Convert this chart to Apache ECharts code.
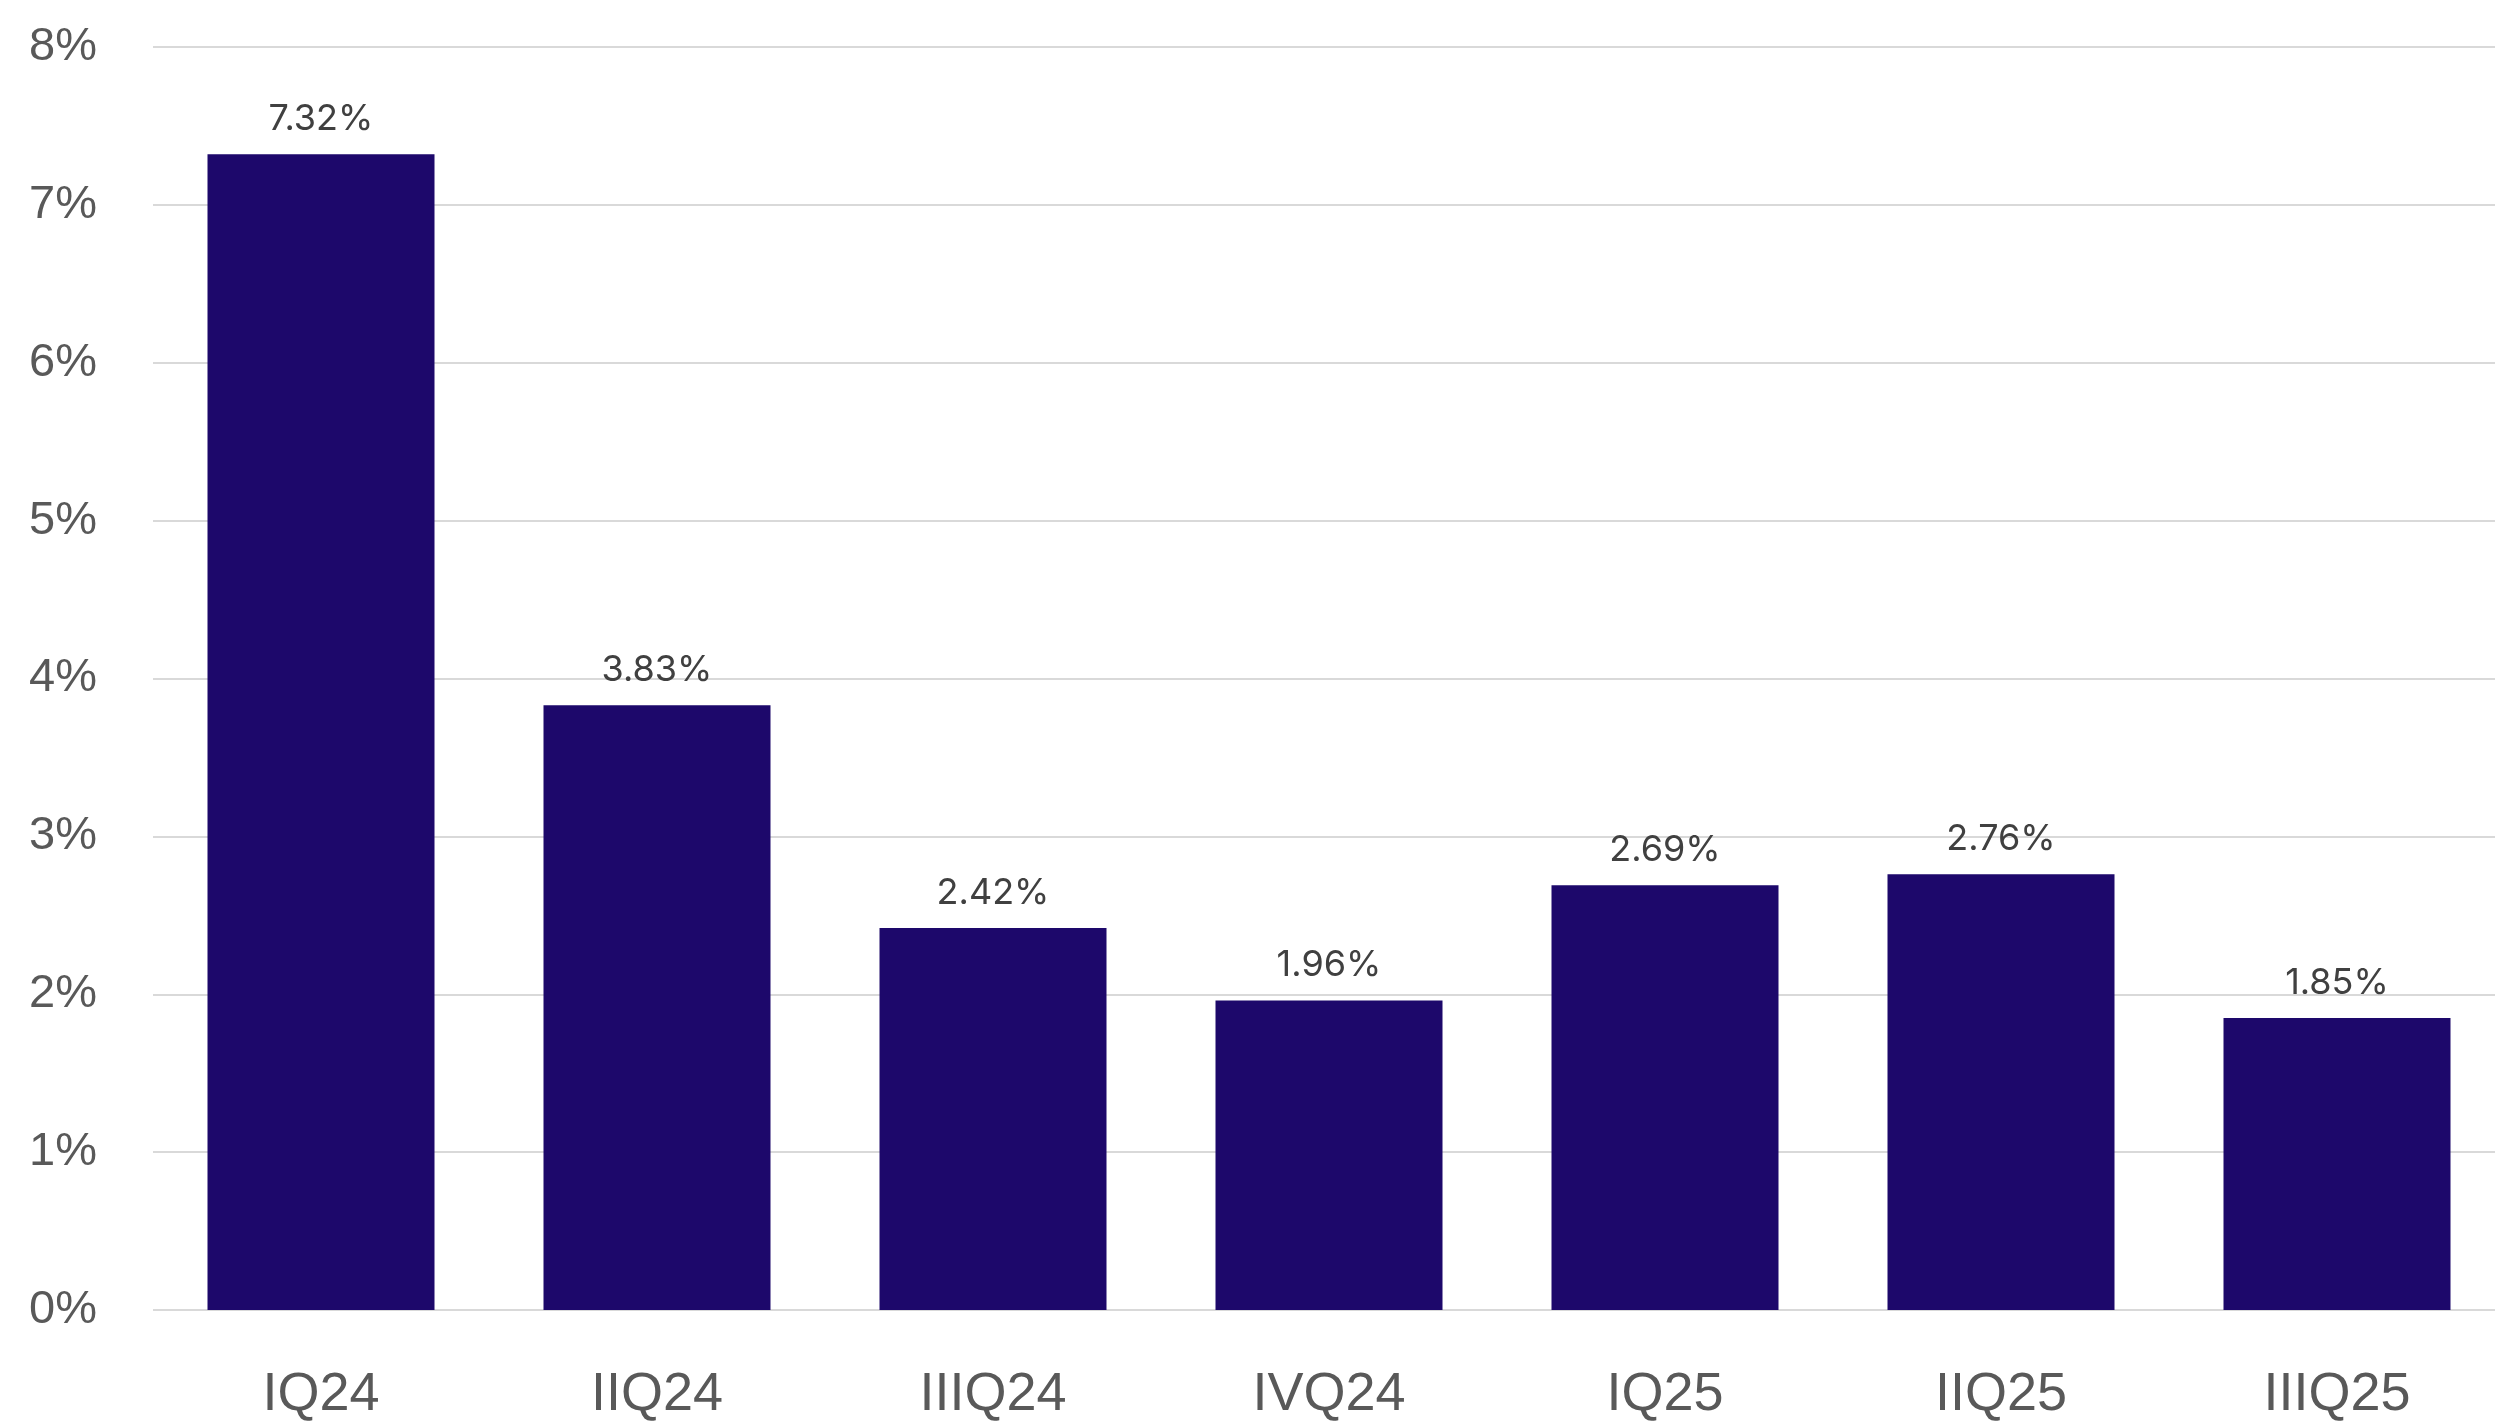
<!DOCTYPE html>
<html>
<head>
<meta charset="utf-8">
<script src="https://cdn.jsdelivr.net/npm/echarts@6/dist/echarts.min.js"></script>
<style>
html,body{margin:0;padding:0;background:#fff;}
#chart{width:2495px;height:1421px;}
</style>
</head>
<body>
<div id="chart"></div>
<script>
const categories = ["IQ24","IIQ24","IIIQ24","IVQ24","IQ25","IIQ25","IIIQ25"];
const values = [7.32, 3.83, 2.42, 1.96, 2.69, 2.76, 1.85];
const yTicks = [0, 1, 2, 3, 4, 5, 6, 7, 8];

const chart = echarts.init(document.getElementById('chart'));
chart.setOption({
  animation: false,
  backgroundColor: '#ffffff',
  grid: { left: 153, top: 47, bottom: 111, width: 2352, containLabel: false, outerBoundsMode: 'none' },
  xAxis: {
    type: 'category',
    data: categories,
    axisLine: { show: false },
    axisTick: { show: false },
    axisLabel: { color: '#595959', fontSize: 54, fontFamily: 'Liberation Sans, Arial, sans-serif', margin: 58 }
  },
  yAxis: {
    type: 'value',
    min: yTicks[0],
    max: yTicks[yTicks.length - 1],
    interval: 1,
    axisLine: { show: false },
    axisTick: { show: false },
    splitLine: { lineStyle: { color: '#d9d9d9', width: 2 } },
    axisLabel: {
      color: '#595959', fontSize: 47, fontFamily: 'Liberation Sans, Arial, sans-serif', margin: 56,
      formatter: v => v + '%'
    }
  },
  series: [{
    type: 'bar',
    data: values,
    barWidth: 227,
    itemStyle: { color: '#1d086b' },
    label: {
      show: true,
      position: 'top',
      distance: 17,
      color: '#404040',
      fontSize: 36,
      fontFamily: 'Inter, Lato, sans-serif',
      formatter: p => p.value.toFixed(2) + '%'
    }
  }]
});
</script>
</body>
</html>
